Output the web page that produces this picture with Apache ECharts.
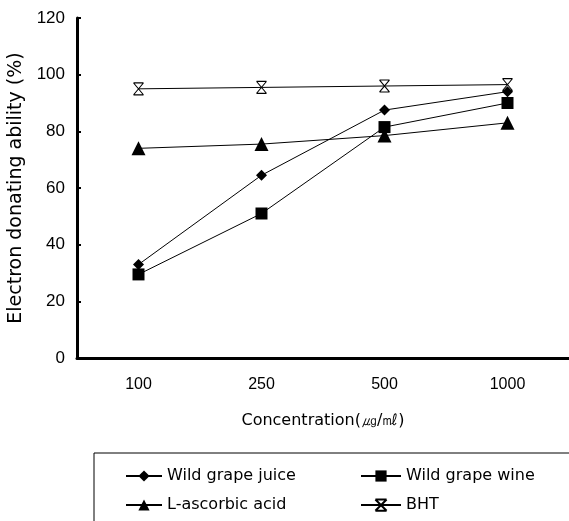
<!DOCTYPE html>
<html><head><meta charset="utf-8">
<script src="https://cdn.jsdelivr.net/npm/echarts@6/dist/echarts.min.js"></script>
<style>html,body{margin:0;padding:0;background:#fff}#c{width:569px;height:521px}</style>
</head><body><div id="c"></div>
<script>
const categories = ['100', '250', '500', '1000'];
const juice = [33, 64.5, 87.5, 94];
const wine = [29.5, 51, 81.5, 90];
const ascorbic = [74, 75.5, 78.5, 83];
const bht = [95, 95.5, 96, 96.5];
const yTicks = [0, 20, 40, 60, 80, 100, 120];

const bhtSym = 'path://M0,0L10,0M0,12L10,12M0,0L10,12M10,0L0,12';
const font = '"Liberation Sans", Arial, sans-serif';
const wide = '"DejaVu Sans", sans-serif';
const chart = echarts.init(document.getElementById('c'));
function ser(name, data, symbol, size, extra) {
  return Object.assign({
    name, type: 'line', data, symbol, symbolSize: size,
    lineStyle: { color: '#000', width: 1 },
    itemStyle: { color: '#000' },
    showAllSymbol: true, animation: false
  }, extra || {});
}
chart.setOption({
  animation: false,
  grid: { left: 77, top: 18, right: 0, bottom: 163, outerBoundsMode: 'none', containLabel: false },
  xAxis: {
    type: 'category', data: categories, boundaryGap: true,
    axisLine: { lineStyle: { color: '#000', width: 3 } },
    axisTick: { inside: true, length: 5, lineStyle: { color: '#000', width: 2 } },
    axisLabel: { color: '#000', fontSize: 16, fontFamily: font, margin: 19 },
    name: 'Concentration(㎍/㎖)', nameLocation: 'middle', nameGap: 55,
    nameTextStyle: { color: '#000', fontSize: 16, fontFamily: wide }
  },
  yAxis: {
    type: 'value', min: 0, max: 120, interval: 20,
    axisLine: { show: true, lineStyle: { color: '#000', width: 3 } },
    axisTick: { show: true, inside: true, length: 4, lineStyle: { color: '#000', width: 2 } },
    splitLine: { show: false },
    axisLabel: { color: '#000', fontSize: 17, fontFamily: font, margin: 12,
      formatter: v => yTicks.includes(v) ? String(v) : '' },
    name: 'Electron donating ability (%)', nameLocation: 'middle', nameGap: 47,
    nameTextStyle: { color: '#000', fontSize: 19, fontFamily: wide }
  },
  legend: [
    { left: 120, top: 463, orient: 'vertical', itemGap: 13, itemWidth: 36, itemHeight: 14,
      textStyle: { color: '#000', fontSize: 16, fontFamily: wide },
      data: ['Wild grape juice', 'L-ascorbic acid'] },
    { left: 355, top: 463, orient: 'vertical', itemGap: 13, itemWidth: 40, itemHeight: 14,
      textStyle: { color: '#000', fontSize: 16, fontFamily: wide },
      data: ['Wild grape wine', 'BHT'] }
  ],
  graphic: [{ type: 'rect', shape: { x: 94, y: 453, width: 480, height: 80 },
    style: { fill: 'none', stroke: '#000', lineWidth: 1 } }],
  series: [
    ser('Wild grape juice', juice, 'diamond', 11),
    ser('Wild grape wine', wine, 'rect', 12),
    ser('L-ascorbic acid', ascorbic, 'triangle', 14),
    ser('BHT', bht, bhtSym, [10, 12], { itemStyle: { color: 'none', borderColor: '#000', borderWidth: 1 } })
  ]
});
</script></body></html>
